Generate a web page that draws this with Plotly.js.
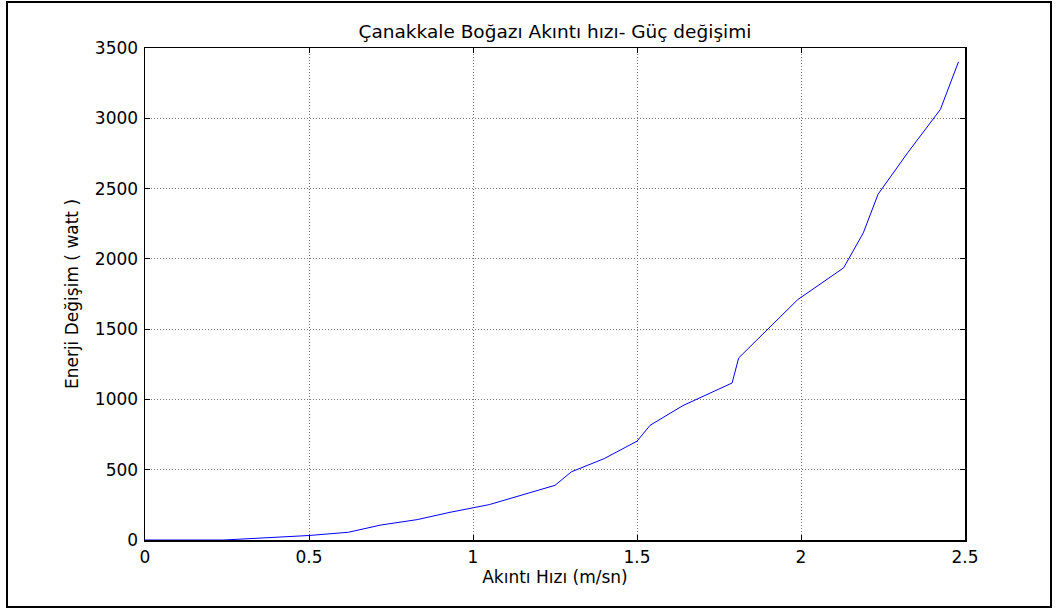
<!DOCTYPE html>
<html>
<head>
<meta charset="utf-8">
<script src="https://cdn.plot.ly/plotly-3.0.1.min.js"></script>
<style>
html,body{margin:0;padding:0;background:#fff;}
#chart{width:1059px;height:611px;}
</style>
</head>
<body>
<div id="chart"></div>
<script>
// Current speed (m/s) and power (watt)
var speed = [0, 0.24, 0.5, 0.62, 0.72, 0.83, 0.93, 1.05, 1.25, 1.30, 1.40, 1.50, 1.54, 1.64, 1.79, 1.81, 1.99, 2.13, 2.19, 2.235, 2.325, 2.425, 2.48];
var power = [0, 0, 32, 55, 107, 145, 197, 252, 389, 485, 579, 703, 816, 956, 1117, 1295, 1710, 1936, 2185, 2460, 2754, 3063, 3401];
var xTicks = [0, 0.5, 1, 1.5, 2, 2.5];
var xTickText = ['0', '0.5', '1', '1.5', '2', '2.5'];
var yTicks = [0, 500, 1000, 1500, 2000, 2500, 3000, 3500];
var yTickText = ['0', '500', '1000', '1500', '2000', '2500', '3000', '3500'];
var chartTitle = 'Çanakkale Boğazı Akıntı hızı- Güç değişimi';
var xTitle = 'Akıntı Hızı (m/sn)';
var yTitle = 'Enerji Değişim ( watt )';

var font = {family: 'DejaVu Sans, sans-serif', size: 17, color: '#000'};

var trace = {
  x: speed, y: power, type: 'scatter', mode: 'lines',
  line: {color: '#0000ff', width: 1},
  hoverinfo: 'skip'
};

var axisCommon = {
  showline: true, linecolor: '#000', linewidth: 1.5, mirror: 'ticks',
  ticks: 'inside', ticklen: 5, tickcolor: '#000', tickwidth: 1,
  showgrid: true, gridcolor: '#777', griddash: '1px,2px', gridwidth: 1,
  zeroline: false, tickfont: font, fixedrange: true
};

var layout = {
  width: 1059, height: 611,
  margin: {l: 145, r: 94, t: 48, b: 71},
  paper_bgcolor: '#fff', plot_bgcolor: '#fff',
  font: font,
  showlegend: false,
  title: {text: chartTitle, font: {family: font.family, size: 18.5, color: '#000'}, x: 0.524, xanchor: 'center', y: 0.948, yanchor: 'middle'},
  xaxis: Object.assign({}, axisCommon, {
    range: [0, 2.5], tickmode: 'array', tickvals: xTicks, ticktext: xTickText,
    ticklabelstandoff: 1,
    title: {text: xTitle, font: font, standoff: 4}
  }),
  yaxis: Object.assign({}, axisCommon, {
    range: [0, 3500], tickmode: 'array', tickvals: yTicks, ticktext: yTickText,
    ticklabelstandoff: 2,
    title: {text: yTitle, font: font, standoff: 12}
  }),
  shapes: [{
    type: 'rect', xref: 'paper', yref: 'paper',
    x0: (7 - 145) / 820, x1: (1051 - 145) / 820,
    y0: (540 - 607) / 492, y1: (540 - 2) / 492,
    line: {color: '#000', width: 2}, fillcolor: 'rgba(0,0,0,0)', layer: 'below'
  }]
};

Plotly.newPlot('chart', [trace], layout, {displayModeBar: false, staticPlot: true});
</script>
</body>
</html>
